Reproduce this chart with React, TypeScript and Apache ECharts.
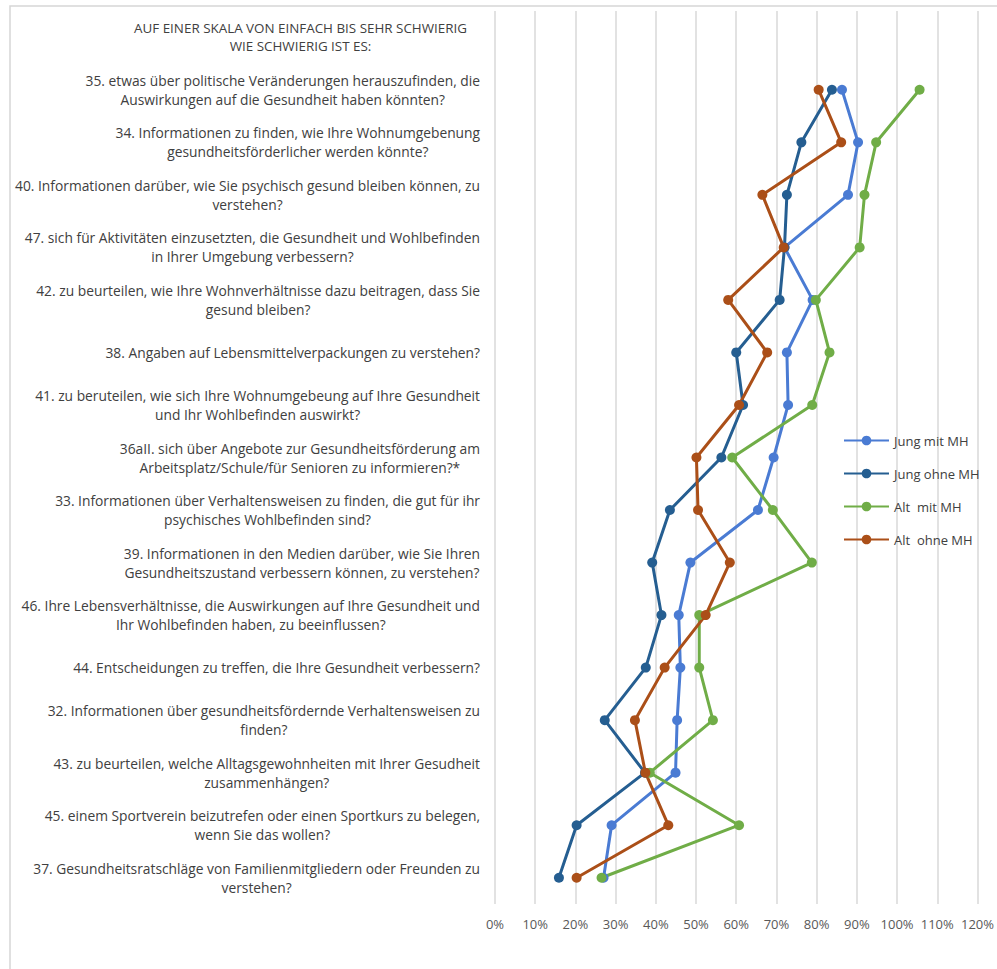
import React, { useEffect, useRef } from "react";
import * as echarts from "echarts";

const categories: string[] = [
  "AUF EINER SKALA VON EINFACH BIS SEHR SCHWIERIG\nWIE SCHWIERIG IST ES:",
  "35. etwas über politische Veränderungen herauszufinden, die\nAuswirkungen auf die Gesundheit haben könnten?",
  "34. Informationen zu finden, wie Ihre Wohnumgebenung\ngesundheitsförderlicher werden könnte?",
  "40. Informationen darüber, wie Sie psychisch gesund bleiben können, zu\nverstehen?",
  "47. sich für Aktivitäten einzusetzten, die Gesundheit und Wohlbefinden\nin Ihrer Umgebung verbessern?",
  "42. zu beurteilen, wie Ihre Wohnverhältnisse dazu beitragen, dass Sie\ngesund bleiben?",
  "38. Angaben auf Lebensmittelverpackungen zu verstehen?",
  "41. zu beruteilen, wie sich Ihre Wohnumgebeung auf Ihre Gesundheit\nund Ihr Wohlbefinden auswirkt?",
  "36aII. sich über Angebote zur Gesundheitsförderung am\nArbeitsplatz/Schule/für Senioren zu informieren?*",
  "33. Informationen über Verhaltensweisen zu finden, die gut für ihr\npsychisches Wohlbefinden sind?",
  "39. Informationen in den Medien darüber, wie Sie Ihren\nGesundheitszustand verbessern können, zu verstehen?",
  "46. Ihre Lebensverhältnisse, die Auswirkungen auf Ihre Gesundheit und\nIhr Wohlbefinden haben, zu beeinflussen?",
  "44. Entscheidungen zu treffen, die Ihre Gesundheit verbessern?",
  "32. Informationen über gesundheitsfördernde Verhaltensweisen zu\nfinden?",
  "43. zu beurteilen, welche Alltagsgewohnheiten mit Ihrer Gesudheit\nzusammenhängen?",
  "45. einem Sportverein beizutrefen oder einen Sportkurs zu belegen,\nwenn Sie das wollen?",
  "37. Gesundheitsratschläge von Familienmitgliedern oder Freunden zu\nverstehen?",
];

const seriesNames: string[] = ["Jung mit MH", "Jung ohne MH", "Alt  mit MH", "Alt  ohne MH"];

const jungMitMH: (number | null)[] = [null, 86.3, 90.3, 87.8, 72.0, 79.0, 72.6, 72.9, 69.3, 65.4, 48.6, 45.7, 46.1, 45.3, 44.9, 29.0, 27.0];
const jungOhneMH: (number | null)[] = [null, 83.8, 76.2, 72.6, 72.0, 70.8, 60.0, 61.7, 56.3, 43.5, 39.1, 41.4, 37.5, 27.3, 37.3, 20.3, 15.9];
const altMitMH: (number | null)[] = [null, 105.6, 94.8, 91.9, 90.7, 79.8, 83.2, 78.9, 59.0, 69.1, 78.8, 50.8, 50.8, 54.2, 38.5, 60.7, 26.5];
const altOhneMH: (number | null)[] = [null, 80.5, 86.1, 66.5, 71.8, 58.0, 67.7, 60.7, 50.1, 50.5, 58.4, 52.4, 42.2, 34.8, 37.4, 43.1, 20.3];

const xTicks = { min: 0, max: 120, interval: 10 };

const colors = ["#4a7bd3", "#255e91", "#70ad47", "#ab4f18"];

const FONT = "'Open Sans', Lato, sans-serif";

export default function App() {
  const ref = useRef<HTMLDivElement>(null);

  useEffect(() => {
    if (!ref.current) return;
    const chart = echarts.init(ref.current, undefined, { renderer: "svg" });
    const values = [jungMitMH, jungOhneMH, altMitMH, altOhneMH];
    const option: any = {
      animation: false,
      backgroundColor: "#ffffff",
      textStyle: { fontFamily: FONT },
      graphic: [
        {
          type: "rect",
          shape: { x: 10, y: 6, width: 1000, height: 1000 },
          style: { fill: "none", stroke: "#d6d6d6", lineWidth: 1.5 },
          z: -1,
        },
      ],
      legend: {
        orient: "vertical",
        left: 843,
        top: 434,
        padding: 0,
        itemWidth: 45,
        itemHeight: 12,
        itemGap: 20,
        data: seriesNames,
        textStyle: { fontFamily: FONT, fontSize: 13, color: "#404040" },
      },
      grid: { left: 495, right: 19, top: 11, bottom: 65, containLabel: false },
      xAxis: {
        type: "value",
        min: xTicks.min,
        max: xTicks.max,
        interval: xTicks.interval,
        axisLine: { show: false },
        axisTick: { show: false },
        splitLine: { show: true, lineStyle: { color: "#d9d9d9", width: 1.5 } },
        axisLabel: {
          formatter: "{value}%",
          fontFamily: FONT,
          fontSize: 13,
          color: "#595959",
          margin: 13,
        },
      },
      yAxis: {
        type: "category",
        inverse: true,
        data: categories,
        axisLine: { show: false },
        axisTick: { show: false },
        splitLine: { show: false },
        axisLabel: {
          interval: 0,
          margin: 15,
          align: "right",
          formatter: (v: string, idx: number) => {
            const style = idx === 0 ? "h" : "c";
            return v
              .split("\n")
              .map((l) => `{${style}|${l}}`)
              .join("\n");
          },
          rich: {
            c: {
              align: "center",
              fontFamily: FONT,
              fontSize: 13.8,
              lineHeight: 19,
              color: "#404040",
            },
            h: {
              align: "center",
              fontFamily: FONT,
              fontSize: 13.4,
              lineHeight: 18,
              color: "#404040",
              padding: [0, 13, 0, 0],
            },
          },
        },
      },
      series: seriesNames.map((name, i) => ({
        name,
        type: "line",
        data: values[i],
        symbol: "circle",
        symbolSize: 10,
        lineStyle: { width: 3, color: colors[i] },
        itemStyle: { color: colors[i] },
        connectNulls: false,
      })),
    };
    chart.setOption(option);
    return () => chart.dispose();
  }, []);

  return (
    <div
      ref={ref}
      style={{ position: "fixed", left: 0, top: 0, width: 997, height: 969 }}
    />
  );
}
